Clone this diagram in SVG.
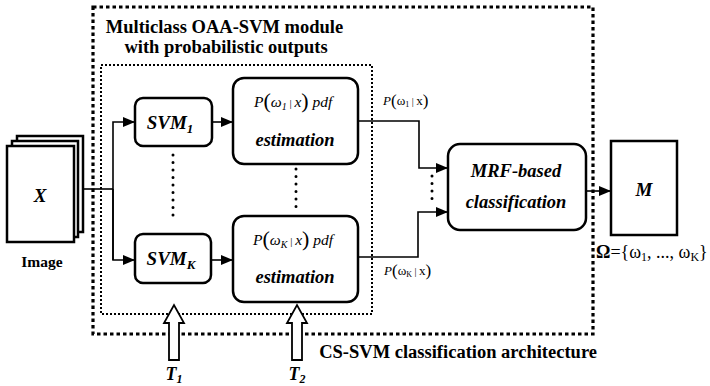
<svg xmlns="http://www.w3.org/2000/svg" width="710" height="386" viewBox="0 0 710 386" font-family="'Liberation Serif', 'Times New Roman', serif">
<style>
text{font-family:'Liberation Serif','Times New Roman',serif;fill:#000}
.b{font-weight:bold}
.bi{font-weight:bold;font-style:italic}
.box{fill:#fff;stroke:#000;stroke-width:2.5}
.ln{fill:none;stroke:#000;stroke-width:1.6}
.dots{fill:none;stroke:#000;stroke-width:3;stroke-linecap:round;stroke-dasharray:0 7.5}
.hollow{fill:#fff;stroke:#000;stroke-width:1.8}
</style>
<defs>
<marker id="ah" markerUnits="userSpaceOnUse" markerWidth="12" markerHeight="10" refX="12" refY="5" orient="auto">
<path d="M0,0 L12,5 L0,10 Z" fill="#000"/>
</marker>
</defs>
<rect width="710" height="386" fill="#fff"/>

<g id="outer-module">
<rect x="93" y="7" width="500" height="327" fill="none" stroke="#000" stroke-width="3.2" stroke-dasharray="3.5 3"/>
<text class="b" x="597" y="358" font-size="18.5" text-anchor="end">CS-SVM classification architecture</text>
</g>
<g id="inner-module">
<rect x="101" y="65" width="271" height="249" fill="none" stroke="#000" stroke-width="2" stroke-dasharray="2 2"/>
<text class="b" x="224.5" y="33" font-size="18.5" text-anchor="middle">Multiclass OAA-SVM module</text>
<text class="b" x="226" y="53" font-size="18.5" text-anchor="middle">with probabilistic outputs</text>
</g>

<g id="image">
<rect x="17" y="136" width="66" height="96" class="box"/>
<rect x="12" y="141" width="66" height="96" class="box"/>
<rect x="7" y="146" width="67" height="96" class="box"/>
<text class="bi" x="40" y="202" font-size="19" text-anchor="middle">X</text>
<text class="b" x="42" y="267" font-size="15.5" text-anchor="middle">Image</text>
</g>

<g id="svm1">
<rect x="135" y="98" width="77" height="48" rx="8" class="box"/>
<text class="bi" x="170" y="129" font-size="19" text-anchor="middle">SVM<tspan font-size="13" dy="4">1</tspan></text>
</g>
<g id="svmK">
<rect x="135" y="234" width="76" height="49" rx="8" class="box"/>
<text class="bi" x="171" y="265" font-size="19" text-anchor="middle">SVM<tspan font-size="13" dy="4">K</tspan></text>
</g>

<g id="pdf1">
<rect x="233" y="78" width="125" height="86" rx="11" class="box"/>
<text x="254" y="107" font-size="15.5" font-style="italic">P<tspan font-size="22" font-style="normal" dy="1">(</tspan><tspan dy="-1">ω</tspan><tspan font-size="10" dy="3">1</tspan><tspan font-style="normal" font-size="11" dy="-3"> | </tspan>x<tspan font-size="22" font-style="normal" dy="1">)</tspan><tspan dy="-1"> pdf</tspan></text>
<text class="bi" x="295" y="146" font-size="18.5" text-anchor="middle">estimation</text>
</g>
<g id="pdfK">
<rect x="233" y="216" width="125" height="86" rx="11" class="box"/>
<text x="253" y="245" font-size="15.5" font-style="italic">P<tspan font-size="22" font-style="normal" dy="1">(</tspan><tspan dy="-1">ω</tspan><tspan font-size="10" dy="3">K</tspan><tspan font-style="normal" font-size="11" dy="-3"> | </tspan>x<tspan font-size="22" font-style="normal" dy="1">)</tspan><tspan dy="-1"> pdf</tspan></text>
<text class="bi" x="295" y="283" font-size="18.5" text-anchor="middle">estimation</text>
</g>

<g id="mrf">
<rect x="448" y="144" width="138" height="86" rx="12" class="box"/>
<text class="bi" x="516" y="177" font-size="18.5" text-anchor="middle">MRF-based</text>
<text class="bi" x="516" y="208" font-size="18.5" text-anchor="middle">classification</text>
</g>

<g id="map">
<rect x="611" y="141" width="66" height="94" class="box"/>
<text class="bi" x="644" y="196" font-size="19" text-anchor="middle">M</text>
<text x="596" y="258" font-size="18"><tspan font-weight="bold">Ω</tspan>={ω<tspan font-size="12" dy="3">1</tspan><tspan dy="-3">, ..., ω</tspan><tspan font-size="12" dy="3">K</tspan><tspan dy="-3">}</tspan></text>
</g>

<g id="thresholds">
<path class="hollow" d="M169,360 V323 H164 L174,305 L184,323 H179 V360 Z"/>
<text class="bi" x="174" y="380" font-size="18" text-anchor="middle">T<tspan font-size="12" dy="3">1</tspan></text>
<path class="hollow" d="M292,360 V323 H287 L297,305 L307,323 H302 V360 Z"/>
<text class="bi" x="297" y="380" font-size="18" text-anchor="middle">T<tspan font-size="12" dy="3">2</tspan></text>
</g>

<g id="connectors">
<path class="ln" d="M83,189 H113"/>
<path class="ln" d="M113,260 V122 H135" marker-end="url(#ah)"/>
<path class="ln" d="M113,189 V260 H135" marker-end="url(#ah)"/>
<path class="ln" d="M212,122 H233" marker-end="url(#ah)"/>
<path class="ln" d="M211,260 H233" marker-end="url(#ah)"/>
<path class="ln" d="M358,121 H419 V168 H448" marker-end="url(#ah)"/>
<path class="ln" d="M358,257 H418 V212 H448" marker-end="url(#ah)"/>
<path class="ln" d="M586,191 H611" marker-end="url(#ah)"/>
<line class="dots" x1="173" y1="155" x2="173" y2="219"/>
<line class="dots" x1="296" y1="169" x2="296" y2="209"/>
<line class="dots" x1="432" y1="176" x2="432" y2="200"/>
<text x="383" y="105" font-size="13"><tspan font-style="italic">P</tspan><tspan font-size="17" dy="1">(</tspan><tspan dy="-1">ω</tspan><tspan font-size="8" dy="2">1</tspan><tspan font-size="10" dy="-2"> | </tspan>x<tspan font-size="17" dy="1">)</tspan></text>
<text x="384" y="275" font-size="13"><tspan font-style="italic">P</tspan><tspan font-size="17" dy="1">(</tspan><tspan dy="-1">ω</tspan><tspan font-size="8" dy="2">K</tspan><tspan font-size="10" dy="-2"> | </tspan>x<tspan font-size="17" dy="1">)</tspan></text>
</g>
</svg>
